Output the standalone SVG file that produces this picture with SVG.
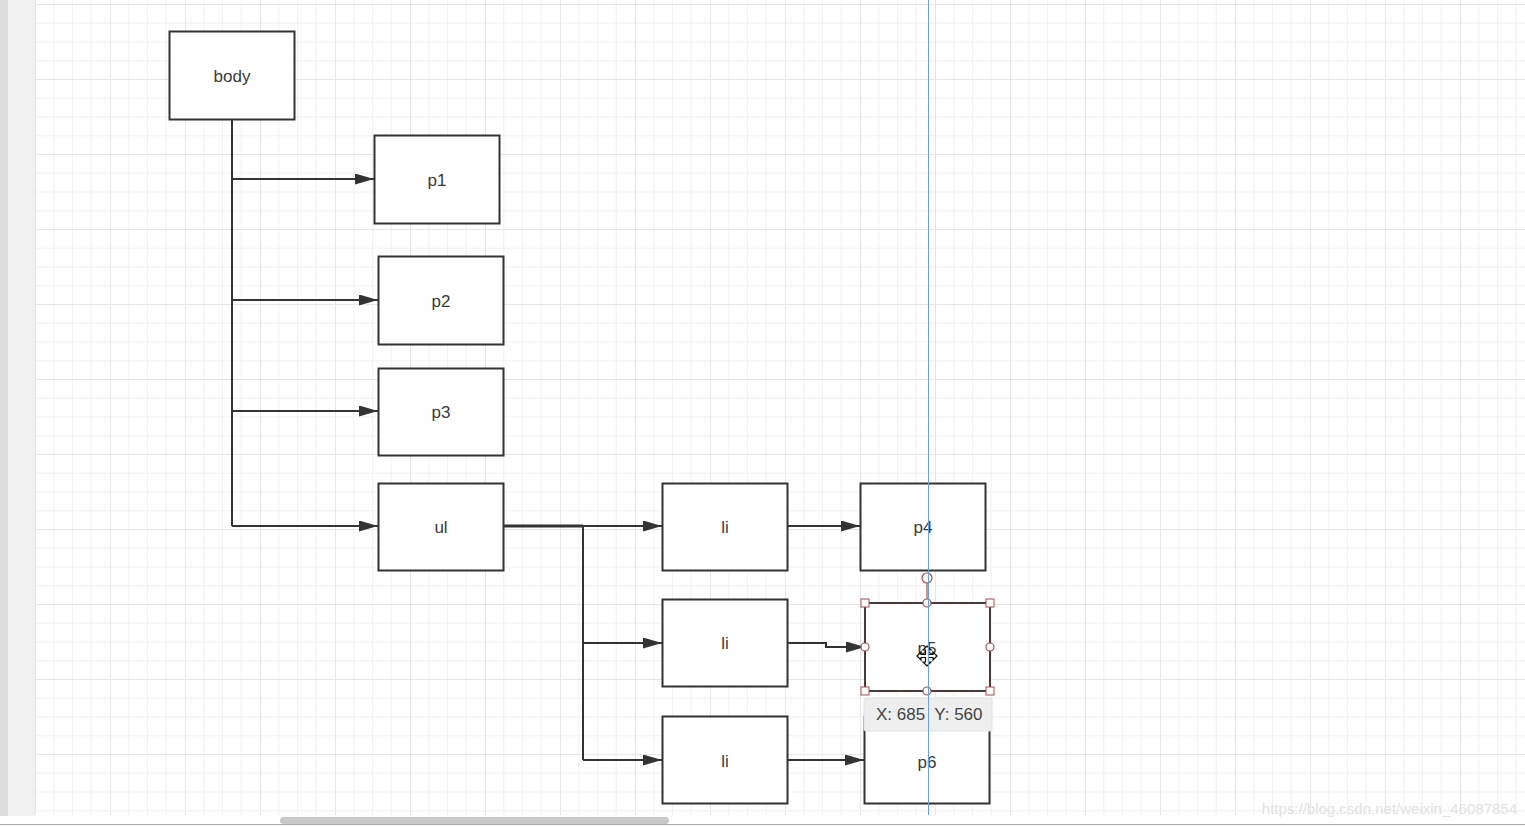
<svg xmlns="http://www.w3.org/2000/svg" width="1525" height="827" viewBox="0 0 1525 827">
<style>
.node rect{fill:#fff;stroke:#333;stroke-width:2}
.node text{font-family:"Liberation Sans","Noto Sans",sans-serif;font-size:17px;fill:#3a3a3a;text-anchor:middle;dominant-baseline:central}
.conn{fill:none;stroke:#333;stroke-width:2}
.h-sq{fill:#fff;stroke:#a0524f;stroke-width:1}
.h-c{fill:#fff;stroke:#a0524f;stroke-width:1.2}
</style>
<defs>
<pattern id="grid" patternUnits="userSpaceOnUse" x="35" y="4" width="75" height="75">
<rect width="75" height="75" fill="#fff"/>
<rect x="18.25" y="0" width="1" height="75" fill="#f2f2f2"/>
<rect x="37" y="0" width="1" height="75" fill="#f2f2f2"/>
<rect x="55.75" y="0" width="1" height="75" fill="#f2f2f2"/>
<rect x="0" y="18.75" width="75" height="1" fill="#f2f2f2"/>
<rect x="0" y="37.5" width="75" height="1" fill="#f2f2f2"/>
<rect x="0" y="56.25" width="75" height="1" fill="#f2f2f2"/>
<rect x="0" y="0" width="1" height="75" fill="#e6e6e6"/>
<rect x="0" y="0" width="75" height="1" fill="#e6e6e6"/>
</pattern>
<marker id="arr" viewBox="0 0 19 11" refX="19" refY="5.5" markerWidth="19" markerHeight="11" markerUnits="userSpaceOnUse" orient="auto">
<path d="M0,0 L19,5.5 L0,11 Z" fill="#333"/>
</marker>
</defs>
<rect width="1525" height="827" fill="#fff"/>
<rect x="0" y="0" width="8" height="816" fill="#dcdcdc"/>
<rect x="8" y="0" width="27" height="816" fill="#f0f0f0"/>
<rect x="35" y="0" width="1490" height="815" fill="url(#grid)"/>
<line x1="0" y1="824.5" x2="1525" y2="824.5" stroke="#a8a8a8" stroke-width="1"/>
<rect x="280" y="817" width="389" height="7" rx="3.5" fill="#c8c8c8"/>
<text x="1517" y="814" text-anchor="end" font-family="Liberation Sans, sans-serif" font-size="15" fill="#e2e2e2">https://blog.csdn.net/weixin_46087854</text>

<g id="connectors">
<path class="conn" d="M232,119 V526"/>
<path class="conn" d="M232,179 H374" marker-end="url(#arr)"/>
<path class="conn" d="M232,300 H378" marker-end="url(#arr)"/>
<path class="conn" d="M232,411 H378" marker-end="url(#arr)"/>
<path class="conn" d="M232,526 H378" marker-end="url(#arr)"/>
<path class="conn" d="M504,526 H583" style="stroke-width:3"/>
<path class="conn" d="M583,526 V760"/>
<path class="conn" d="M583,526 H662" marker-end="url(#arr)"/>
<path class="conn" d="M583,643 H662" marker-end="url(#arr)"/>
<path class="conn" d="M583,760 H662" marker-end="url(#arr)"/>
<path class="conn" d="M788,526 H860" marker-end="url(#arr)"/>
<path class="conn" d="M788,643 H826 V647 H865" marker-end="url(#arr)"/>
<path class="conn" d="M788,760 H864" marker-end="url(#arr)"/>
</g>

<g id="node-body" class="node"><rect x="169.5" y="31.5" width="125" height="88"/><text x="232" y="76">body</text></g>
<g id="node-p1" class="node"><rect x="374.5" y="135.5" width="125" height="88"/><text x="437" y="180">p1</text></g>
<g id="node-p2" class="node"><rect x="378.5" y="256.5" width="125" height="88"/><text x="441" y="301">p2</text></g>
<g id="node-p3" class="node"><rect x="378.5" y="368.5" width="125" height="87"/><text x="441" y="412">p3</text></g>
<g id="node-ul" class="node"><rect x="378.5" y="483.5" width="125" height="87"/><text x="441" y="527">ul</text></g>
<g id="node-li1" class="node"><rect x="662.5" y="483.5" width="125" height="87"/><text x="725" y="527">li</text></g>
<g id="node-li2" class="node"><rect x="662.5" y="599.5" width="125" height="87"/><text x="725" y="643">li</text></g>
<g id="node-li3" class="node"><rect x="662.5" y="716.5" width="125" height="87"/><text x="725" y="761">li</text></g>
<g id="node-p4" class="node"><rect x="860.5" y="483.5" width="125" height="87"/><text x="923" y="527">p4</text></g>
<g id="node-p6" class="node"><rect x="864.5" y="716.5" width="125" height="87"/><text x="927" y="762">p6</text></g>
<g id="node-p5" class="node"><rect x="865" y="603" width="125" height="88" style="stroke:#4a3b3b"/><text x="927" y="648">p5</text></g>

<g id="selection">
<line x1="927" y1="583" x2="927" y2="603" stroke="#a0524f" stroke-width="1.2"/>
<circle class="h-c" cx="927" cy="578" r="5" style="fill:none"/>
<rect class="h-sq" x="861" y="599" width="8" height="8"/>
<rect class="h-sq" x="986" y="599" width="8" height="8"/>
<rect class="h-sq" x="861" y="687" width="8" height="8"/>
<rect class="h-sq" x="986" y="687" width="8" height="8"/>
<circle class="h-c" cx="927" cy="603" r="4"/>
<circle class="h-c" cx="927" cy="691" r="4"/>
<circle class="h-c" cx="865" cy="647" r="4"/>
<circle class="h-c" cx="990" cy="647" r="4"/>
<path d="M927,646 l4,4 h-2.5 v4.5 h4.5 v-2.5 l4,4 -4,4 v-2.5 h-4.5 v4.5 h2.5 l-4,4 -4,-4 h2.5 v-4.5 h-4.5 v2.5 l-4,-4 4,-4 v2.5 h4.5 v-4.5 h-2.5 z" fill="#fff" stroke="#111" stroke-width="1.2" stroke-linejoin="miter"/>
</g>

<g id="tooltip">
<rect x="864" y="698" width="128" height="33" rx="2" fill="#eeeeee" stroke="#e2e2e2"/>
<text x="876" y="714" dominant-baseline="central" font-family="Liberation Sans, sans-serif" font-size="17" fill="#444" xml:space="preserve">X: 685  Y: 560</text>
</g>
<line x1="928.5" y1="0" x2="928.5" y2="815" stroke="#6a9fd8" stroke-width="1"/>
</svg>
